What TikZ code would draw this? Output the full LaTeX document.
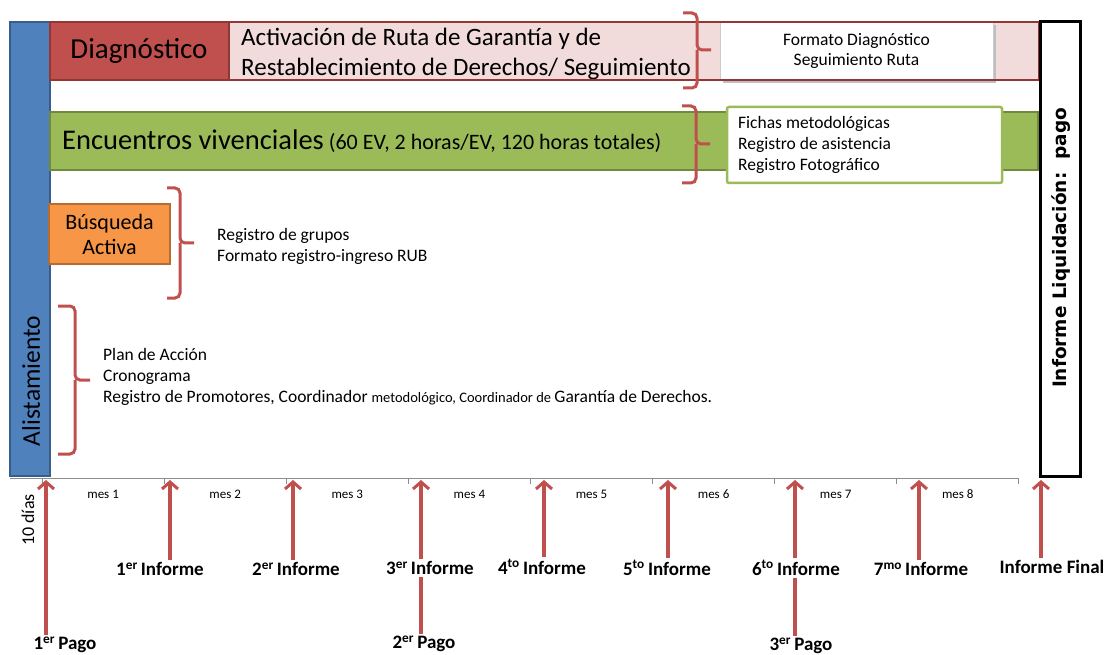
\documentclass[tikz,border=0pt]{standalone}
\usepackage{fontspec}
\setmainfont{Carlito}
\newfontfamily\verd{DejaVu Sans}
\usetikzlibrary{arrows.meta}
\definecolor{blu}{HTML}{4F81BD}
\definecolor{bluD}{HTML}{385D8A}
\definecolor{redF}{HTML}{C0504D}
\definecolor{redD}{HTML}{8C3836}
\definecolor{pinkF}{HTML}{F2DCDB}
\definecolor{pinkD}{HTML}{943634}
\definecolor{grnF}{HTML}{9BBB59}
\definecolor{grnD}{HTML}{71893F}
\definecolor{orgF}{HTML}{F79646}
\definecolor{orgD}{HTML}{B66D31}
\definecolor{axgray}{HTML}{8C8C8C}
\newcommand\fz[2]{\fontsize{#1}{#2}\selectfont}
\tikzset{
  box/.style={rectangle, outer sep=0pt, inner sep=0pt, anchor=north west, line width=2.5pt},
  brc/.style={draw=redF, line width=3pt, rounded corners=5pt},
  arr/.style={draw=redF, line width=4pt, -{Straight Barb[length=7pt,width=16pt,line width=3pt]}},
  seg/.style={draw=redF, line width=4pt},
  lab/.style={font=\bfseries\fz{19}{22}, inner sep=2pt},
  mes/.style={font=\fz{13}{15}},
  small/.style={font=\fz{17.5}{21}, align=left, inner sep=0pt},
}
\begin{document}
\begin{tikzpicture}[x=1pt,y=-1pt]
\useasboundingbox (0,0) rectangle (1106,655);
% axis
\coordinate (axL) at (10,478);
\coordinate (axR) at (1019,478);
\draw[axgray, line width=1pt] (axL) -- (axR);
\foreach \i in {0,...,8}{
  \draw[axgray, line width=0.8pt] ({42+122.1*\i},478) -- ({42+122.1*\i},484);
}
\foreach \i/\t in {1/mes 1,2/mes 2,3/mes 3,4/mes 4,5/mes 5,6/mes 6,7/mes 7,8/mes 8}{
  \node[mes] (m\i) at ({42+122.1*\i-61},494) {\t};
}
% blue bar
\node[box, draw=bluD, fill=blu, minimum width=40, minimum height=454] (alist) at (10,22) {};
\node[rotate=90, font=\fz{25.5}{28}] (alistT) at (31,381) {Alistamiento};
% top red row
\node[box, draw=pinkD, fill=pinkF, minimum width=989, minimum height=58] (ruta) at (50,22) {};
\node[box, draw=redD, fill=redF, minimum width=179, minimum height=58] (diag) at (50,22) {};
\node[font=\fz{29}{31}] (diagT) at (139,51) {Diagnóstico};
\node[anchor=west, align=left, font=\fz{25}{30}, inner sep=0pt] (rutaT) at (241,54) {Activación de Ruta de Garantía y de\\Restablecimiento de Derechos/ Seguimiento};
\fill[black!25] (723,25) rectangle (996,83);
\node[box, draw=white!80!black, line width=0.8pt, fill=white, minimum width=273, minimum height=57] (fmt) at (720,22.5) {};
\node[align=center, font=\fz{17.5}{20}] (fmtT) at (fmt.center) {Formato Diagnóstico\\Seguimiento Ruta};
\draw[pinkD, line width=2.5pt] (50,22) rectangle (1039,80);
% green row
\node[box, draw=grnD, fill=grnF, minimum width=988, minimum height=58] (enc) at (50,112) {};
\node[anchor=base west, inner sep=0pt] (encT) at (62,150) {\fz{28.5}{30}Encuentros vivenciales\fz{22}{24} (60 EV, 2 horas/EV, 120 horas totales)};
\node[box, draw=grnF, fill=white, line width=2.5pt, rounded corners=2pt, minimum width=275, minimum height=76] (fich) at (727,107) {};
\node[small, anchor=west] (fichT) at (738,145) {Fichas metodológicas\\Registro de asistencia\\Registro Fotográfico};
% black box
\node[box, draw=black, fill=white, line width=3pt, minimum width=40, minimum height=454] (liq) at (1040,22) {};
\node[rotate=90, font=\verd\bfseries\fz{18.5}{22}] (liqT) at (1061,248) {Informe Liquidación:\ \ pago};
% busqueda
\node[box, draw=orgD, fill=orgF, minimum width=121, minimum height=60] (busq) at (49,204) {};
\node[align=center, font=\fz{22}{25}] (busqT) at (busq.center) {Búsqueda\\Activa};
\node[small, anchor=west] (regT) at (217,246) {Registro de grupos\\Formato registro-ingreso RUB};
\node[small, anchor=west] (planT) at (103,377) {Plan de Acción\\Cronograma\\Registro de Promotores, Coordinador {\fz{14.5}{14}metodológico, Coordinador de }Garantía de Derechos.};
% braces
\draw[brc] (683,13) -- (697,13) -- (697,50) -- (711,50);
\draw[brc] (697,50) -- (697,88) -- (683,88);
\draw[brc] (682,106) -- (696,106) -- (696,144) -- (710,144);
\draw[brc] (696,144) -- (696,183) -- (682,183);
\draw[brc] (167,188) -- (180,188) -- (180,243) -- (194,243);
\draw[brc] (180,243) -- (180,298) -- (167,298);
\draw[brc] (58,306) -- (75,306) -- (75,380) -- (90,380);
\draw[brc] (75,380) -- (75,454) -- (58,454);
% 10 dias
\node[rotate=90, font=\fz{18}{20}] (diez) at (28,520) {10 días};
% arrow tips on axis
\foreach \n/\x in {0/46,1/170,2/293,3/421,4/544,5/668,6/795,7/919,8/1041}{
  \coordinate (t\n) at (\x,480);
}
% labels
\node[lab] (inf1) at (160,569) {1\textsuperscript{er}\,Informe};
\node[lab] (inf2) at (296,569) {2\textsuperscript{er}\,Informe};
\node[lab] (inf3) at (430,568) {3\textsuperscript{er}\,Informe};
\node[lab] (inf4) at (542,567) {4\textsuperscript{to}\,Informe};
\node[lab] (inf5) at (667,568) {5\textsuperscript{to}\,Informe};
\node[lab] (inf6) at (796,568) {6\textsuperscript{to}\,Informe};
\node[lab] (inf7) at (921,569) {7\textsuperscript{mo}\,Informe};
\node[lab] (inff) at (1052,567) {Informe Final};
\node[lab] (pag1) at (65,645) {1\textsuperscript{er}\,Pago};
\node[lab] (pag2) at (424,644) {2\textsuperscript{er}\,Pago};
\node[lab] (pag3) at (801,646) {3\textsuperscript{er}\,Pago};
% arrows
\draw[arr] (pag1.north -| t0) -- (t0);
\draw[arr] (inf1.north -| t1) -- (t1);
\draw[arr] (inf2.north -| t2) -- (t2);
\draw[arr] (inf3.north -| t3) -- (t3);
\draw[arr] (inf4.north -| t4) -- (t4);
\draw[arr] (inf5.north -| t5) -- (t5);
\draw[arr] (inf6.north -| t6) -- (t6);
\draw[arr] (inf7.north -| t7) -- (t7);
\draw[arr] (inff.north -| t8) -- (t8);
\draw[seg] (pag2.north -| t3) -- (inf3.south -| t3);
\draw[seg] (pag3.north -| t6) -- (inf6.south -| t6);
\end{tikzpicture}
\end{document}
